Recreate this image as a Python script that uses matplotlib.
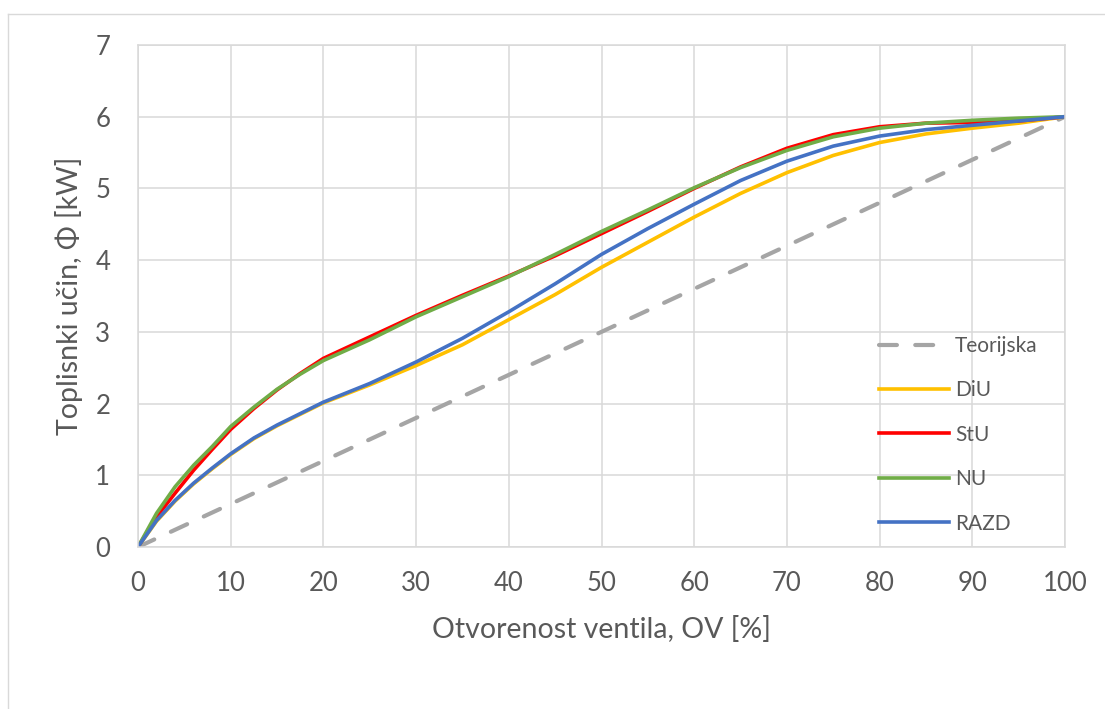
import matplotlib
matplotlib.use("Agg")
import matplotlib.pyplot as plt
from matplotlib.lines import Line2D

plt.rcParams["font.family"] = ["Lato", "DejaVu Sans"]

# otvorenost ventila [%]
ov = [0, 2, 4, 6, 8, 10, 12.5, 15, 17.5, 20, 25, 30, 35, 40, 45, 50,
      55, 60, 65, 70, 75, 80, 85, 90, 95, 100]

diu = [0, 0.36, 0.64, 0.88, 1.09, 1.29, 1.51, 1.69, 1.85, 2.01, 2.26, 2.53,
       2.82, 3.17, 3.52, 3.90, 4.25, 4.60, 4.93, 5.22, 5.46, 5.64, 5.76,
       5.84, 5.91, 6.0]
stu = [0, 0.42, 0.75, 1.07, 1.36, 1.64, 1.93, 2.19, 2.42, 2.63, 2.93, 3.23,
       3.51, 3.78, 4.06, 4.37, 4.68, 5.00, 5.30, 5.56, 5.75, 5.86, 5.91,
       5.92, 5.94, 6.0]
nu = [0, 0.47, 0.84, 1.14, 1.40, 1.68, 1.95, 2.20, 2.41, 2.60, 2.89, 3.21,
      3.49, 3.77, 4.08, 4.40, 4.70, 5.01, 5.29, 5.53, 5.72, 5.84, 5.91,
      5.95, 5.98, 6.0]
razd = [0, 0.37, 0.65, 0.89, 1.10, 1.30, 1.52, 1.70, 1.86, 2.02, 2.28, 2.58,
        2.91, 3.28, 3.67, 4.08, 4.44, 4.78, 5.11, 5.38, 5.59, 5.73, 5.82,
        5.88, 5.94, 6.0]

ov_teor = [0, 10, 20, 30, 40, 50, 60, 70, 80, 90, 100]
teor = [0, 0.6, 1.2, 1.8, 2.4, 3.0, 3.6, 4.2, 4.8, 5.4, 6.0]

W, H = 1105, 709
fig = plt.figure(figsize=(W / 100, H / 100), dpi=100)
ax = fig.add_axes([138 / W, 1 - 547 / H, (1065 - 138) / W, (547 - 45) / H])

txt = "#595959"
grid = "#d9d9d9"

ax.plot(ov_teor, teor, color="#a5a5a5", lw=3.0, dashes=(4.3, 4.4),
        dash_capstyle="round", label="Teorijska")
ax.plot(ov, diu, color="#ffc000", lw=2.6, label="DiU")
ax.plot(ov, stu, color="#ff0000", lw=2.6, label="StU")
ax.plot(ov, nu, color="#70ad47", lw=2.6, label="NU")
ax.plot(ov, razd, color="#4472c4", lw=2.6, label="RAZD")

ax.set_xlim(0, 100)
ax.set_ylim(0, 7)
ax.set_xticks(range(0, 101, 10))
ax.set_yticks(range(0, 8))
ax.grid(True, color=grid, lw=1.1)
ax.set_axisbelow(True)
for s in ax.spines.values():
    s.set_color(grid)
    s.set_linewidth(1.1)
ax.tick_params(length=0, labelsize=18.5, labelcolor=txt)
ax.tick_params(axis="x", pad=17)
ax.tick_params(axis="y", pad=20)

ax.set_xlabel("Otvorenost ventila, OV [%]", fontsize=20.5, color=txt,
              labelpad=15)
ax.set_ylabel("Toplisnki učin, Φ [kW]", fontsize=20.5, color=txt,
              labelpad=9)

fig.legend(loc="upper left", bbox_to_anchor=(879 / W, 1 - 336 / H),
           frameon=False, fontsize=15, labelcolor=txt, handlelength=3.35,
           handletextpad=0.3, labelspacing=1.17, borderpad=0,
           borderaxespad=0)

# chart area border
fig.add_artist(Line2D([8 / W, 8 / W], [0, 1 - 14 / H], color=grid, lw=1,
                      transform=fig.transFigure))
fig.add_artist(Line2D([8 / W, 1], [1 - 14 / H, 1 - 14 / H], color=grid, lw=1,
                      transform=fig.transFigure))

fig.savefig("out.png", dpi=100, facecolor="white")
